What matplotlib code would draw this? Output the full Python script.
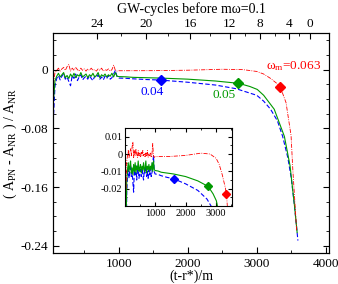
import numpy as np
import matplotlib
matplotlib.use('Agg')
import matplotlib.pyplot as plt
from matplotlib.ticker import MultipleLocator, FixedLocator

plt.rcParams['font.family'] = ['Liberation Serif', 'DejaVu Serif']
plt.rcParams['mathtext.fontset'] = 'custom'
plt.rcParams['mathtext.rm'] = 'Liberation Serif'
plt.rcParams['mathtext.it'] = 'Liberation Serif:italic'

# early, noisy part (t-r*)/m
t_early = [50, 75, 100, 125, 150, 175, 200, 225, 250, 275, 300, 325, 350, 375, 400,
           425, 450, 475, 500, 525, 550, 575, 600, 625, 650, 675, 700, 725, 750, 775,
           800, 825, 850, 875, 900, 925, 950, 975, 1000]
blue_early = [-0.070, -0.022, -0.012, -0.008, -0.014, -0.009, -0.006, -0.013, -0.010, -0.016,
              -0.022, -0.008, -0.012, -0.006, -0.015, -0.010, -0.007, -0.014, -0.011, -0.009,
              -0.013, -0.008, -0.012, -0.015, -0.009, -0.011, -0.007, -0.013, -0.010, -0.014,
              -0.009, -0.012, -0.008, -0.013, -0.011, -0.006, -0.001, -0.010, -0.0115]
green_early = [-0.045, -0.015, -0.009, -0.005, -0.010, -0.007, -0.004, -0.011, -0.008, -0.012,
               -0.006, -0.010, -0.005, -0.011, -0.007, -0.009, -0.004, -0.010, -0.008, -0.006,
               -0.011, -0.007, -0.009, -0.005, -0.010, -0.008, -0.004, -0.011, -0.007, -0.009,
               -0.006, -0.010, -0.007, -0.009, -0.005, -0.010, -0.004, -0.009, -0.0095]
red_early = [-0.020, -0.004, -0.001, 0.002, -0.002, 0.001, 0.003, -0.001, 0.004, 0.007,
             -0.002, 0.002, -0.001, 0.003, 0.000, -0.002, 0.002, -0.001, 0.001, -0.002,
             0.001, -0.001, 0.002, -0.001, 0.000, -0.002, 0.001, -0.001, 0.002, -0.002,
             0.000, -0.001, 0.001, -0.002, 0.000, 0.006, -0.001, -0.002, -0.0015]

# smooth late part
t_blue = [1100, 1200, 1400, 1600, 2000, 2400, 2700, 2800, 3000, 3100, 3200, 3300, 3375,
          3450, 3500, 3547, 3596]
blue_late = [-0.0118, -0.0125, -0.0135, -0.0142, -0.0172, -0.021, -0.026, -0.029, -0.035,
             -0.043, -0.054, -0.070, -0.091, -0.12, -0.148, -0.186, -0.233]
t_green = [1100, 1200, 1600, 2000, 2400, 2740, 2900, 3007, 3100, 3253, 3400, 3482, 3547, 3585]
green_late = [-0.0098, -0.0105, -0.0115, -0.013, -0.0155, -0.0187, -0.023, -0.027, -0.035,
              -0.054, -0.091, -0.131, -0.186, -0.222]
t_red = [1100, 1500, 2000, 2500, 2800, 3000, 3100, 3200, 3300, 3340, 3424, 3497, 3522, 3556, 3578]
red_late = [-0.0015, -0.0014, -0.0008, 0.0005, 0.0, -0.0025, -0.006, -0.012, -0.0195,
            -0.0235, -0.045, -0.09, -0.136, -0.186, -0.22]

# diamonds (matching frequency points)
mark_t = [1610, 2730, 3330]
mark_y = [-0.0142, -0.0185, -0.0232]

# top axis: GW cycles before m omega = 0.1
cyc_labels = [24, 20, 16, 12, 8, 4, 0]
cyc_pos = [684, 1390, 2037, 2610, 3051, 3463, 3772]

blue_c, green_c, red_c = '#0000ff', '#009900', '#ff0000'

series = [
    (t_early + t_blue, blue_early + blue_late, blue_c, (0, (4, 2)), 0.8),
    (t_early + t_green, green_early + green_late, green_c, '-', 0.8),
    (t_early + t_red, red_early + red_late, red_c, (0, (5, 1.5, 1, 1.5)), 0.6),
]

fig = plt.figure(figsize=(3.38, 2.84), dpi=100)
ax = fig.add_axes([0.157, 0.109, 0.816, 0.775])

for t, y, c, ls, lw in series:
    ax.plot(t, y, color=c, linestyle=ls, linewidth=lw)
for tm, ym, c in zip(mark_t, mark_y, [blue_c, green_c, red_c]):
    ax.plot(tm, ym, marker='D', color=c, markersize=5.5)

ax.set_xlim(47, 4045)
ax.set_ylim(-0.25, 0.05)
ax.xaxis.set_major_locator(FixedLocator([1000, 2000, 3000, 4000]))
ax.xaxis.set_minor_locator(MultipleLocator(500))
ax.yaxis.set_major_locator(FixedLocator([0, -0.08, -0.16, -0.24]))
ax.yaxis.set_minor_locator(MultipleLocator(0.02))
ax.set_yticklabels(['0', '-0.08', '-0.16', '-0.24'])
ax.tick_params(which='both', direction='in', right=True, labelsize=9.5)
ax.tick_params(which='major', length=4)
ax.tick_params(which='minor', length=2.5)
ax.set_xlabel('(t-r*)/m', fontsize=10, labelpad=0)
ax.set_ylabel('( A$_{\\rm PN}$ - A$_{\\rm NR}$ ) / A$_{\\rm NR}$', fontsize=10, labelpad=1)

ax.text(1478, -0.031, '0.04', color=blue_c, fontsize=9.5, ha='center', va='center')
ax.text(2522, -0.035, '0.05', color=green_c, fontsize=9.5, ha='center', va='center')
ax.text(3537, 0.0054, 'ω$_{\\rm m}$=0.063', color=red_c, fontsize=9.5, ha='center', va='center')

ax2 = ax.twiny()
ax2.set_xlim(ax.get_xlim())
ax2.set_xticks(cyc_pos)
ax2.set_xticklabels([str(c) for c in cyc_labels])
minor_cyc = np.arange(26, -1, -2)
ax2.xaxis.set_minor_locator(FixedLocator(np.interp(minor_cyc, cyc_labels[::-1], cyc_pos[::-1],
                                                   left=np.nan, right=np.nan)))
ax2.tick_params(which='both', direction='in', labelsize=9.5, pad=2)
ax2.tick_params(which='major', length=4)
ax2.tick_params(which='minor', length=2.5)
ax2.set_xlabel('GW-cycles before mω=0.1', fontsize=10, labelpad=4)

# inset zoom
axi = fig.add_axes([0.370, 0.2746, 0.317, 0.2746])
for t, y, c, ls, lw in series:
    axi.plot(t, y, color=c, linestyle=ls, linewidth=lw)
for tm, ym, c in zip(mark_t, mark_y, [blue_c, green_c, red_c]):
    axi.plot(tm, ym, marker='D', color=c, markersize=4.5)
axi.set_xlim(20, 3525)
axi.set_ylim(-0.03, 0.015)
axi.xaxis.set_major_locator(FixedLocator([1000, 2000, 3000]))
axi.xaxis.set_minor_locator(MultipleLocator(500))
axi.yaxis.set_major_locator(FixedLocator([0.01, 0, -0.01, -0.02]))
axi.yaxis.set_minor_locator(MultipleLocator(0.005))
axi.set_yticklabels(['0.01', '0', '-0.01', '-0.02'])
axi.tick_params(which='both', direction='in', right=True, top=True, labelsize=7.5, pad=2)
axi.tick_params(which='major', length=3)
axi.tick_params(which='minor', length=1.5)

fig.savefig('out.png', dpi=100)
